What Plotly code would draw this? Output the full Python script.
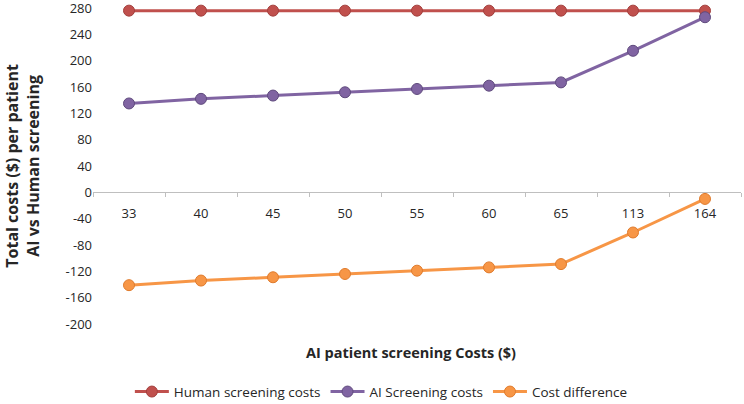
import plotly.graph_objects as go

categories = ["33", "40", "45", "50", "55", "60", "65", "113", "164"]
human_costs = [276, 276, 276, 276, 276, 276, 276, 276, 276]
ai_costs = [135, 142, 147, 152, 157, 162, 167, 215, 266]
cost_diff = [-141, -134, -129, -124, -119, -114, -109, -61, -10]
y_ticks = [280, 240, 200, 160, 120, 80, 40, 0, -40, -80, -120, -160, -200]
y_tick_labels = ["280", "240", "200", "160", "120", "80", "40", "0",
                 "-40", "-80", "-120", "-160", "-200"]

FONT = "Open Sans"
TXT = "#262626"
series = [
    ("Human screening costs", human_costs, "#C0504D", "#A33F3C"),
    ("AI Screening costs", ai_costs, "#8064A2", "#5F4A7D"),
    ("Cost difference", cost_diff, "#F79646", "#E07B2C"),
]

fig = go.Figure()
for name, vals, col, edge in series:
    fig.add_trace(go.Scatter(
        x=categories, y=vals, name=name, mode="lines+markers",
        line=dict(color=col, width=3),
        marker=dict(size=11, color=col, line=dict(color=edge, width=1)),
        cliponaxis=False,
    ))

ymin, ymax = -200, 280
fig.update_layout(
    width=744, height=404,
    margin=dict(l=93, r=3, t=8, b=80, autoexpand=False),
    paper_bgcolor="white", plot_bgcolor="white",
    font=dict(family=FONT, size=13, color=TXT),
    showlegend=True,
    legend=dict(orientation="h", x=0.445, xanchor="center", y=-0.2145, yanchor="middle",
                font=dict(size=13.5), itemwidth=34, tracegroupgap=0),
    xaxis=dict(
        type="category", anchor="free", position=(0 - ymin) / (ymax - ymin),
        showline=True, linecolor="#BFBFBF", linewidth=1,
        ticks="outside", tickson="boundaries", ticklen=4, tickcolor="#BFBFBF",
        ticklabelstandoff=9,
        showgrid=False, zeroline=False, automargin=False,
        range=[-0.5, 8.5],
        tickfont=dict(size=13),
    ),
    yaxis=dict(
        range=[ymin, ymax], tickvals=y_ticks, ticktext=y_tick_labels,
        showgrid=False, zeroline=False,
        showline=False, ticks="", tickfont=dict(size=13), automargin=False,
        ticklabeloverflow="allow",
    ),
)
fig.add_annotation(text="<b>Total costs ($) per patient<br>AI vs Human screening</b>",
                   xref="paper", yref="paper", x=-0.110, y=0.5, xanchor="center",
                   yanchor="middle", textangle=-90, showarrow=False,
                   font=dict(size=16, color=TXT))
fig.add_annotation(text="<b>AI patient screening Costs ($)</b>", xref="paper", yref="paper",
                   x=0.49, y=-0.09, xanchor="center", yanchor="middle",
                   showarrow=False, font=dict(size=14.5, color=TXT))

fig.write_html("out.html", config={"displayModeBar": False},
               post_script="document.body.style.margin='0';document.body.style.overflow='hidden';")
